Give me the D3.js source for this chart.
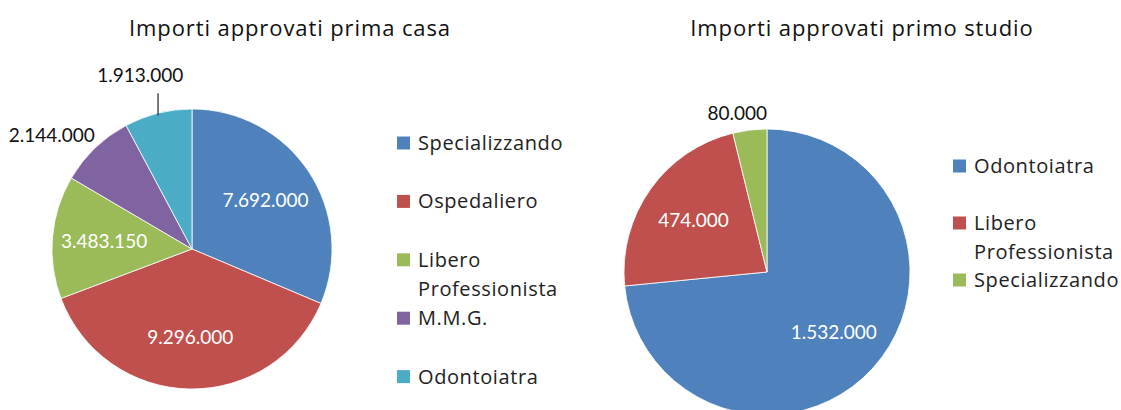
<!DOCTYPE html>
<html>
<head>
<meta charset="utf-8">
<script src="https://cdn.jsdelivr.net/npm/d3@7"></script>
<style>
  body { margin: 0; background: #fff; }
  svg text { font-family: Lato, "Open Sans", sans-serif; }
  svg text.title, svg text.legend { font-family: "Open Sans", Lato, sans-serif; }
</style>
</head>
<body>
<div id="chart"></div>
<script>
// categories and values
var casaCategories = ["Specializzando", "Ospedaliero", "Libero Professionista", "M.M.G.", "Odontoiatra"];
var casaValues = [7692000, 9296000, 3483150, 2144000, 1913000];

var studioCategories = ["Odontoiatra", "Libero Professionista", "Specializzando"];
var studioValues = [1532000, 474000, 80000];

// office palette, by category
var catColors = {
    "Specializzando": "#4F81BD",
    "Ospedaliero": "#C0504D",
    "Libero Professionista": "#9BBB59",
    "M.M.G.": "#8064A2",
    "Odontoiatra": "#4BACC6"
}
var studioColors = ["#4F81BD", "#C0504D", "#9BBB59"];

var width = 1121, height = 410;

// italian number format 1.913.000
var it = d3.formatLocale({decimal: ",", thousands: ".", grouping: [3], currency: ["€", ""]});
var fmt = it.format(",d");

var svg = d3.select("#chart").append("svg")
    .attr("width", width)
    .attr("height", height);

svg.append("rect").attr("width", width).attr("height", height).attr("fill", "#fff");

function drawPie(cfg){
    var g = svg.append("g");

    g.append("text")
        .attr("class", "title")
        .attr("x", cfg.titleX)
        .attr("y", 36)
        .attr("text-anchor", "middle")
        .attr("font-size", 22)
        .attr("letter-spacing", 0.9)
        .attr("fill", "#111")
        .text(cfg.title);

    var data = cfg.categories.map(function(c, i){ return {cat: c, value: cfg.values[i], color: cfg.colors[i]}; });
    var total = d3.sum(cfg.values);

    var pie = d3.pie().sort(null).value(function(d){ return d.value; });
    var arcs = pie(data);

    var arc = d3.arc().innerRadius(0).outerRadius(cfg.r);
    var labelArc = d3.arc().innerRadius(cfg.r * 0.63).outerRadius(cfg.r * 0.63);

    var pg = g.append("g").attr("transform", "translate(" + cfg.cx + "," + cfg.cy + ")");

    pg.selectAll(".slice")
        .data(arcs).enter().append("path")
        .attr("class", "slice")
        .attr("d", arc)
        .attr("fill", function(d){ return d.data.color; })
        .attr("stroke", "#fff")
        .attr("stroke-width", 0.8);

    // big slices: white label inside
    pg.selectAll(".inlabel")
        .data(arcs.filter(function(d){ return d.data.value / total >= 0.1; }))
        .enter().append("text")
        .attr("class", "inlabel")
        .attr("transform", function(d){ return "translate(" + labelArc.centroid(d) + ")"; })
        .attr("text-anchor", "middle")
        .attr("dy", "0.35em")
        .attr("font-size", 19)
        .attr("fill", "#fff")
        .text(function(d){ return fmt(d.data.value); });

    // small slices: black label outside, box pushed away from the edge
    arcs.filter(function(d){ return d.data.value / total < 0.1; }).forEach(function(d){
        var a = (d.startAngle + d.endAngle) / 2;
        var leader = cfg.leader.indexOf(d.data.cat) >= 0;
        var rr = cfg.r + (leader ? 30 : 8);
        var px = rr * Math.sin(a), py = -rr * Math.cos(a);
        var t = pg.append("text")
            .attr("font-size", 19)
            .attr("fill", "#111")
            .text(fmt(d.data.value));
        var w = t.node().getComputedTextLength(), h = 18;
        var left = px + (Math.sin(a) - 1) / 2 * w - (leader ? 0 : 8);
        var top = py + (-Math.cos(a) - 1) / 2 * h;
        t.attr("x", left).attr("y", top + h / 2).attr("dy", "0.35em");
        if(leader){
            var lx = cfg.r * Math.sin(a), ly = -cfg.r * Math.cos(a);
            pg.append("line")
                .attr("x1", lx).attr("x2", lx)
                .attr("y1", ly + 2).attr("y2", top + h + 9)
                .attr("stroke", "#222")
                .attr("stroke-width", 1.2);
        }
    });

    // legend
    var lg = g.append("g").attr("transform", "translate(" + cfg.legendX + "," + cfg.legendY + ")");
    var item = lg.selectAll(".item")
        .data(data).enter().append("g")
        .attr("class", "item")
        .attr("transform", function(d, i){ return "translate(0," + (i * cfg.legendStep) + ")"; });

    item.append("rect")
        .attr("x", 0).attr("y", -6.5)
        .attr("width", 13).attr("height", 13)
        .attr("fill", function(d){ return d.color; });

    item.append("text")
        .attr("class", "legend")
        .attr("x", 21)
        .attr("font-size", 20)
        .attr("letter-spacing", 0.6)
        .attr("fill", "#222")
        .each(function(d){
            // wrap long names like Excel does
            var el = d3.select(this);
            var words = d.cat.split(" "), line = [];
            var ts = el.append("tspan").attr("x", 21).attr("dy", "0.35em");
            words.forEach(function(wd){
                line.push(wd);
                ts.text(line.join(" "));
                if(ts.node().getComputedTextLength() > 160 && line.length > 1){
                    line.pop();
                    ts.text(line.join(" "));
                    line = [wd];
                    ts = el.append("tspan").attr("x", 21).attr("dy", 29).text(wd);
                }
            });
        });
}

drawPie({
    title: "Importi approvati prima casa", titleX: 290,
    categories: casaCategories, values: casaValues,
    colors: casaCategories.map(function(c){ return catColors[c]; }),
    cx: 192, cy: 249, r: 140,
    leader: ["Odontoiatra"],
    legendX: 397, legendY: 143, legendStep: 58.4
});

drawPie({
    title: "Importi approvati primo studio", titleX: 862,
    categories: studioCategories, values: studioValues,
    colors: studioColors,
    cx: 767, cy: 272, r: 143,
    leader: [],
    legendX: 953, legendY: 166, legendStep: 57
});
</script>
</body>
</html>
